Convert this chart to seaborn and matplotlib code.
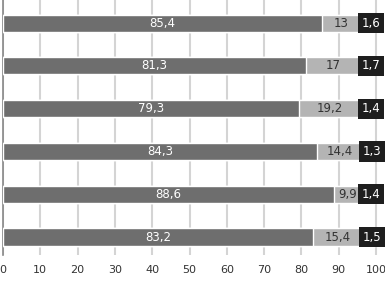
import numpy as np
import pandas as pd
import matplotlib
matplotlib.use("Agg")
import matplotlib.pyplot as plt
import seaborn as sns

# Data (top to bottom)
rows = ["r1", "r2", "r3", "r4", "r5", "r6"]
dark = [85.4, 81.3, 79.3, 84.3, 88.6, 83.2]
light = [13, 17, 19.2, 14.4, 9.9, 15.4]
black = [1.6, 1.7, 1.4, 1.3, 1.4, 1.5]

df = pd.DataFrame({"row": rows, "dark": dark, "light": light, "black": black})
df["c1"] = df["dark"]
df["c2"] = df["dark"] + df["light"]
df["c3"] = df["c2"] + df["black"]

sns.set_style("white")
plt.rcParams["font.family"] = ["DejaVu Sans"]

fig = plt.figure(figsize=(3.85, 2.81), dpi=100)
ax = fig.add_axes([3 / 385, 26 / 281, 382 / 385, 255 / 281])

bw = 0.4
sns.barplot(data=df, x="c3", y="row", orient="h", color="#1e1e1e",
            width=bw, saturation=1, ax=ax, zorder=3)
sns.barplot(data=df, x="c2", y="row", orient="h", color="#b4b4b4",
            width=bw, saturation=1, ax=ax, zorder=3)
sns.barplot(data=df, x="c1", y="row", orient="h", color="#6e6e6e",
            width=bw, saturation=1, ax=ax, zorder=3)


def fmt(v):
    s = f"{v:g}"
    return s.replace(".", ",")


for i, r in df.iterrows():
    ax.text(r["c1"] / 2, i, fmt(r["dark"]), ha="center", va="center",
            color="white", fontsize=8.5, zorder=4)
    ax.text((r["c1"] + r["c2"]) / 2 - 1.3, i, fmt(r["light"]), ha="center",
            va="center", color="#333333", fontsize=8.5, zorder=4)
    # black segment label sits in a black box that covers the thin segment
    ax.text((r["c2"] + r["c3"]) / 2 - 0.5, i, fmt(r["black"]), ha="center",
            va="center", color="white", fontsize=8.5, zorder=5,
            bbox=dict(boxstyle="square,pad=0.3", fc="#1e1e1e", ec="none"))

ax.set_xlim(0, 102.4)
ax.set_ylim(5.42, -0.54)
ax.set_xticks(np.arange(0, 101, 10))
ax.set_yticks([])
ax.set_xlabel("")
ax.set_ylabel("")
ax.tick_params(axis="x", labelsize=8, colors="#333333", length=0, pad=7)
ax.xaxis.grid(True, color="#d4d4d4", linewidth=1.5, zorder=0)
ax.set_axisbelow(True)
for s in ["top", "right", "bottom"]:
    ax.spines[s].set_visible(False)
ax.spines["left"].set_color("#888888")
ax.spines["left"].set_linewidth(1.2)

fig.savefig("out.png", dpi=100)
